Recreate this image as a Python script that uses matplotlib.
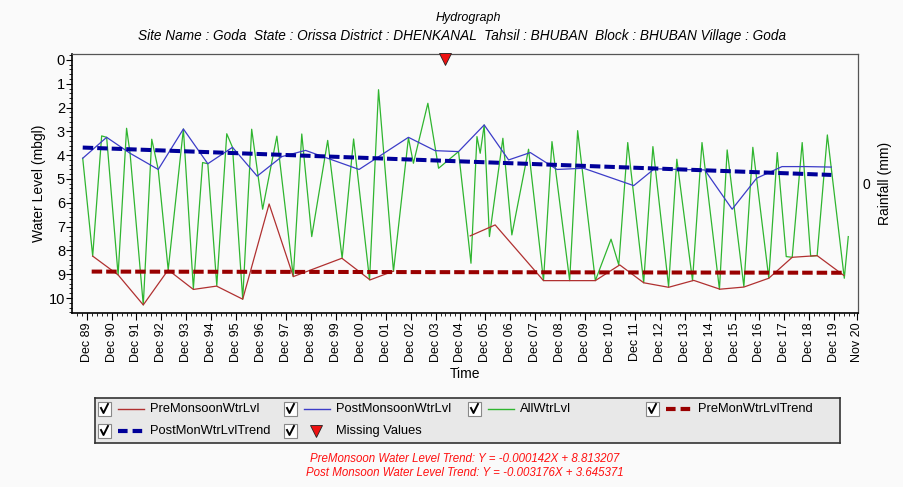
import numpy as np
import matplotlib
matplotlib.use("Agg")
import matplotlib.pyplot as plt
from matplotlib.patches import Rectangle
from matplotlib.ticker import FixedLocator, MultipleLocator

plt.rcParams['font.family'] = ['Liberation Sans', 'DejaVu Sans']

# ---- data (x in decimal years, y in m below ground) ----
pre_x = [1990.16, 1991.18, 1992.19, 1993.19, 1994.20, 1995.13, 1996.18, 1997.24,
         1998.21, 2000.16, 2001.29, 2002.23, 2003.30, 2005.31, 2006.31, 2008.25,
         2009.30, 2010.33, 2011.31, 2012.27, 2013.27, 2014.28, 2015.33, 2016.29,
         2017.29, 2018.23, 2019.23, 2020.30]
pre_y = [8.24, 9.03, 10.29, 8.82, 9.64, 9.50, 10.05, 6.05,
         9.10, 8.33, 9.24, 8.87, np.nan, 7.39, 6.93, 9.27,
         9.27, 9.27, 8.61, 9.36, 9.55, 9.26, 9.63, 9.54,
         9.17, 8.29, 8.22, 9.05]

post_x = [1989.76, 1990.72, 1991.66, 1992.79, 1993.80, 1994.78, 1995.77, 1996.76,
          1997.75, 1998.70, 2000.85, 2002.83, 2003.90, 2004.84, 2005.87, 2006.85,
          2007.72, 2008.79, 2009.86, 2011.87, 2012.70, 2013.70, 2014.72, 2015.82,
          2016.80, 2017.82, 2018.80, 2019.80]
post_y = [4.13, 3.25, 3.92, 4.60, 2.90, 4.36, 3.67, 4.88,
          4.06, 3.80, 4.60, 3.25, 3.81, 3.85, 2.73, 4.20,
          3.89, 4.60, 4.55, 5.28, 4.57, 4.60, 4.62, 6.27,
          4.97, 4.48, 4.48, 4.50]

all_x = [1989.76, 1990.16, 1990.52, 1990.72, 1991.18, 1991.52, 1991.66, 1992.19,
         1992.53, 1992.79, 1993.19, 1993.80, 1994.20, 1994.57, 1994.78, 1995.14,
         1995.54, 1995.77, 1996.18, 1996.54, 1996.98, 1997.55, 1998.21, 1998.55,
         1998.95, 1999.59, 2000.17, 2000.63, 2001.27, 2001.63, 2002.23, 2002.83,
         2003.03, 2003.61, 2004.04, 2004.84, 2005.34, 2005.58, 2005.71, 2005.87,
         2006.08, 2006.62, 2006.98, 2007.65, 2008.25, 2008.59, 2009.30, 2009.62,
         2010.33, 2010.96, 2011.27, 2011.63, 2012.27, 2012.64, 2013.27, 2013.60,
         2014.23, 2014.61, 2015.31, 2015.62, 2016.29, 2016.65, 2017.29, 2017.63,
         2017.99, 2018.23, 2018.63, 2018.97, 2019.23, 2019.64, 2020.32, 2020.48]
all_y = [4.13, 8.24, 3.19, 3.25, 9.03, 2.87, 3.92, 10.29,
         3.33, 4.60, 8.82, 2.90, 9.60, 4.31, 4.36, 9.48,
         3.10, 3.67, 10.05, 2.91, 6.27, 3.20, 9.10, 3.11,
         7.42, 3.38, 8.33, 3.32, 9.24, 1.25, 8.88, 3.27,
         4.34, 1.82, 4.55, 3.85, 8.54, 3.22, 3.92, 2.73,
         7.42, 3.29, 7.35, 3.75, 9.27, 3.43, 9.27, 2.97,
         9.27, 7.53, 8.61, 3.47, 9.36, 3.64, 9.52, 4.17,
         9.27, 3.47, 9.64, 3.78, 9.52, 3.67, 9.17, 3.89,
         8.26, 8.29, 3.47, 8.24, 8.22, 3.15, 9.17, 7.42]

pre_trend_x = [1990.12, 2020.30]
pre_trend_y = [8.89, 8.94]
post_trend_x = [1989.76, 2019.80]
post_trend_y = [3.68, 4.83]

missing_x = [2004.31]

tick_years = list(range(1989, 2020))
tick_pos = [y + 11 / 12 for y in tick_years] + [2020 + 10 / 12]
tick_labels = ['Dec %02d' % (y % 100) for y in tick_years] + ['Nov 20']

# ---- figure ----
W, H = 904, 487
bg = '#fafafa'
fig = plt.figure(figsize=(W / 100, H / 100), dpi=100, facecolor=bg)
ax = fig.add_axes([72 / W, 1 - 313 / H, 786 / W, 259 / H], facecolor=bg)

ax.plot(pre_x, pre_y, color='#b03030', lw=0.9, zorder=3)
ax.plot(post_x, post_y, color='#3c3cc8', lw=0.9, zorder=3)
ax.plot(all_x, all_y, color='#2fb52f', lw=0.9, zorder=2)
ax.plot(pre_trend_x, pre_trend_y, color='#990000', lw=2.9, dashes=(2.6, 1.0), zorder=4)
ax.plot(post_trend_x, post_trend_y, color='#000099', lw=2.9, dashes=(2.6, 1.0), zorder=4)
ax.plot(missing_x, [-0.02], marker='v', ms=8, color='#ee1111', mec='#222222',
        mew=0.6, ls='none', clip_on=False, zorder=6)

ax.set_xlim(1989.33, 2020.87)
ax.set_ylim(10.63, -0.25)
ax.xaxis.set_major_locator(FixedLocator(tick_pos))
ax.set_xticklabels(tick_labels, rotation=90, fontsize=9)
ax.xaxis.set_minor_locator(FixedLocator(np.arange(1989.917 - 0.4, 2020.9, 0.2)))
ax.yaxis.set_major_locator(MultipleLocator(1))
ax.yaxis.set_minor_locator(MultipleLocator(0.2))
ax.tick_params(axis='y', labelsize=10.5, length=4, pad=1)
ax.tick_params(axis='x', length=5, pad=2)
ax.tick_params(which='minor', length=2.5)
for s in ['left', 'bottom']:
    ax.spines[s].set_linewidth(1.2)
for s in ['top', 'right']:
    ax.spines[s].set_color('#555555')
    ax.spines[s].set_linewidth(0.9)
ax.set_xlabel('Time', fontsize=10, labelpad=3)
ax.set_ylabel('Water Level (mbgl)', fontsize=10, labelpad=2)

rax = ax.twinx()
rax.set_ylim(-1, 1)
rax.set_yticks([0])
rax.tick_params(axis='y', length=0, pad=3, labelsize=10)
rax.set_ylabel('Rainfall (mm)', fontsize=10, labelpad=6)
for s in rax.spines.values():
    s.set_visible(False)

fig.text(468 / W, 1 - 18 / H, 'Hydrograph', ha='center', va='center',
         fontsize=9, style='italic')
fig.text(462 / W, 1 - 36 / H,
         'Site Name : Goda  State : Orissa District : DHENKANAL  Tahsil : BHUBAN  '
         'Block : BHUBAN Village : Goda',
         ha='center', va='center', fontsize=9.8, style='italic')

# ---- legend box drawn in pixel coordinates ----
lx0, lx1, ly0, ly1 = 95, 840, 398, 443
lax = fig.add_axes([lx0 / W, 1 - ly1 / H, (lx1 - lx0) / W, (ly1 - ly0) / H])
lax.set_xlim(lx0, lx1)
lax.set_ylim(ly1, ly0)
lax.set_facecolor('#e8e8e8')
lax.set_xticks([])
lax.set_yticks([])
for s in lax.spines.values():
    s.set_color('#333333')
    s.set_linewidth(1.2)


def checkbox(x, y):
    lax.add_patch(Rectangle((x - 6, y - 7), 13, 14, facecolor='white',
                            edgecolor='#888888', lw=0.8))
    lax.plot([x - 3, x - 0.5, x + 4], [y - 1, y + 4, y - 5], color='black', lw=1.4)


rows = [409, 431]
items = [
    (104, rows[0], 'line', '#b03030', 'PreMonsoonWtrLvl'),
    (290, rows[0], 'line', '#3c3cc8', 'PostMonsoonWtrLvl'),
    (474, rows[0], 'line', '#2fb52f', 'AllWtrLvl'),
    (652, rows[0], 'dash', '#990000', 'PreMonWtrLvlTrend'),
    (104, rows[1], 'dash', '#000099', 'PostMonWtrLvlTrend'),
    (290, rows[1], 'tri', '#ee1111', 'Missing Values'),
]
for x, y, kind, col, label in items:
    checkbox(x, y)
    if kind == 'line':
        lax.plot([x + 14, x + 40], [y, y], color=col, lw=1.0)
    elif kind == 'dash':
        lax.plot([x + 14, x + 40], [y, y], color=col, lw=3, dashes=(2.3, 1.2))
    else:
        lax.plot([x + 26], [y], marker='v', ms=8, color=col, mec='#222222', mew=0.6)
    lax.text(x + 46, y, label, va='center', ha='left', fontsize=9.3)

fig.text(465 / W, 1 - 459 / H,
         'PreMonsoon Water Level Trend: Y = -0.000142X + 8.813207',
         ha='center', va='center', fontsize=8.3, style='italic', color='#ff1111')
fig.text(465 / W, 1 - 473 / H,
         'Post Monsoon Water Level Trend: Y = -0.003176X + 3.645371',
         ha='center', va='center', fontsize=8.3, style='italic', color='#ff1111')

fig.savefig('out.png', dpi=100, facecolor=bg)
